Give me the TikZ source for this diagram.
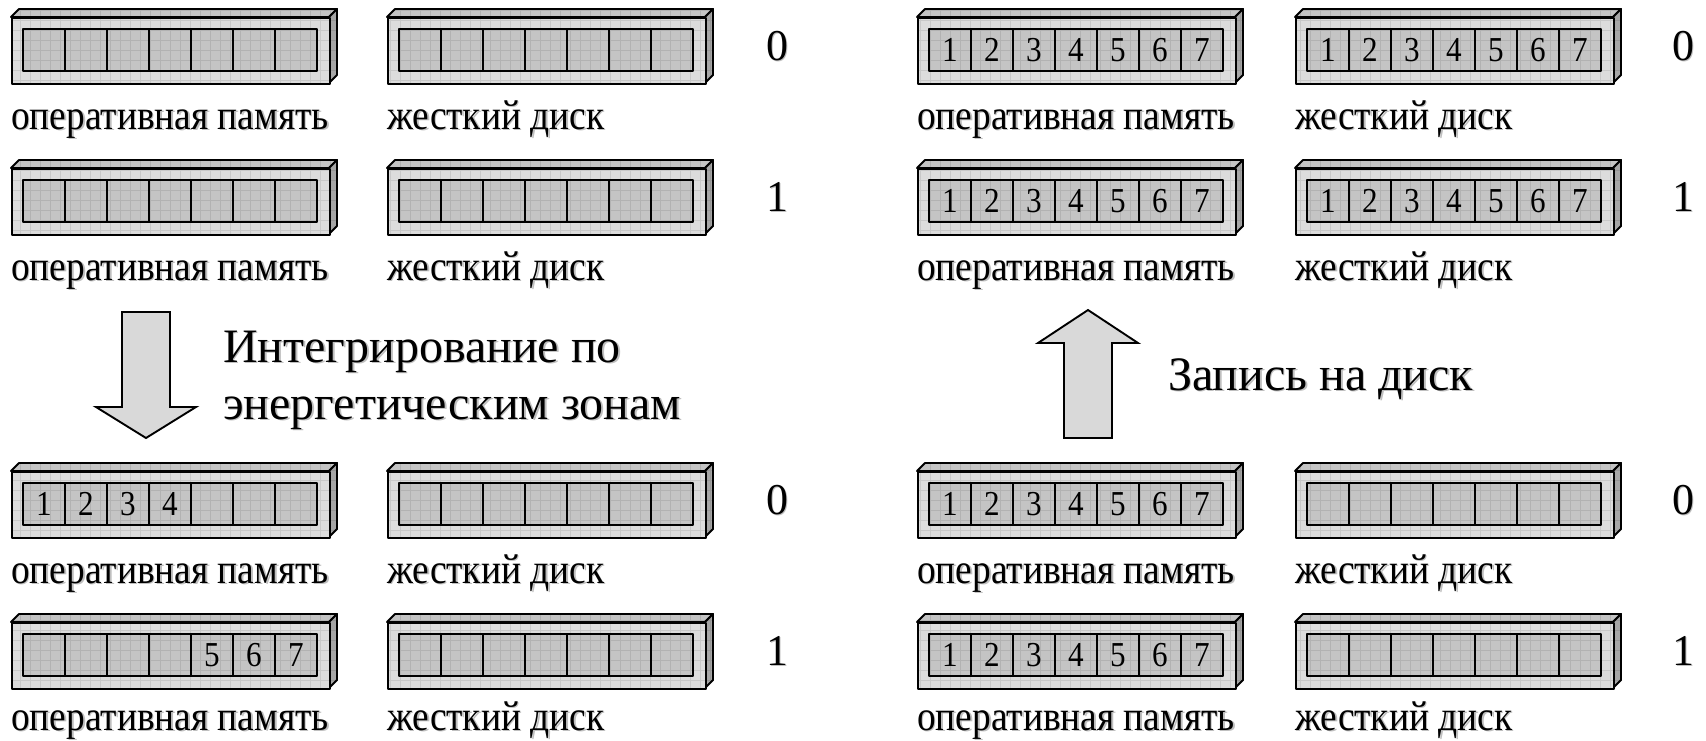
\documentclass[tikz,border=0pt]{standalone}
\usepackage{fontspec}
\setmainfont{Liberation Serif}
\newfontfamily\lblfont{Liberation Serif}[FakeStretch=0.89]
\usetikzlibrary{patterns.meta}
\definecolor{facefront}{HTML}{DCDCDC}
\definecolor{frontgrid}{HTML}{C8C8C8}
\definecolor{facecell}{HTML}{C4C4C4}
\definecolor{cellgrid}{HTML}{B2B2B2}
\definecolor{facetop}{HTML}{C4C4C4}
\definecolor{topgrid}{HTML}{B0B0B0}
\definecolor{faceside}{HTML}{A6A6A6}
\definecolor{sidegrid}{HTML}{969696}
\definecolor{arrowfill}{HTML}{D9D9D9}
\newcommand\shd[1]{\leavevmode\rlap{\kern1.6pt\raisebox{-1.6pt}{\textcolor{black!25}{#1}}}#1}
\tikzset{
  gridded/.style 2 args={preaction={fill=#1},
    preaction={pattern={Hatch[angle=0,distance=10pt,line width=0.7pt]},pattern color=#2}},
  boxline/.style={draw=black, line width=1.9pt, line join=round},
  boxfront/.style={boxline, gridded={facefront}{frontgrid}, rectangle,
    minimum width=318pt, minimum height=66pt, inner sep=0pt, anchor=north west},
  memcell/.style={boxline, gridded={facecell}{cellgrid}, rectangle,
    minimum width=42pt, minimum height=42pt, inner sep=0pt,
    font=\lblfont\fontsize{35}{35}\selectfont},
  lbl/.style={anchor=base west, inner sep=0pt, font=\lblfont\fontsize{42}{42}\selectfont},
  numtext/.style={anchor=base, inner sep=0pt, font=\fontsize{44}{44}\selectfont},
  bigtext/.style={anchor=base west, inner sep=0pt, align=left,
    font=\fontsize{48}{57}\selectfont},
  bigarrow/.style={draw=black, line width=1.9pt, line join=miter, fill=arrowfill},
}
% #1 name, #2 X, #3 Y, #4 first digit, #5 last digit
\newcommand\membox[5]{%
  \path[boxline, gridded={facetop}{topgrid}] (#2,#3) -- ++(8,-8) -- ++(318,0) -- ++(-8,8) -- cycle;
  \path[boxline, gridded={faceside}{sidegrid}] (#2+318,#3) -- ++(8,-8) -- ++(0,66) -- ++(-8,8) -- cycle;
  \node[boxfront] (#1) at (#2,#3) {};
  \foreach \i in {1,...,7} {
    \node[memcell] (#1-\i) at (#2+12+42*\i-21, #3+33)
      {\ifnum\i<#4 \else\ifnum\i>#5 \else\i\fi\fi};
  }
}
\begin{document}
\begin{tikzpicture}[x=1pt, y=-1pt]
\useasboundingbox (0,0) rectangle (1706,740);
% ---------- left half ----------
\membox{lramA}{11}{17}{8}{0}
\membox{ldiskA}{387}{17}{8}{0}
\node[lbl] (lramAt) at (11,129) {\shd{оперативная память}};
\node[lbl] (ldiskAt) at (387,129) {\shd{жесткий диск}};
\node[numtext] (lnumA) at (777,60) {\shd{0}};

\membox{lramB}{11}{168}{8}{0}
\membox{ldiskB}{387}{168}{8}{0}
\node[lbl] (lramBt) at (11,280) {\shd{оперативная память}};
\node[lbl] (ldiskBt) at (387,280) {\shd{жесткий диск}};
\node[numtext] (lnumB) at (777,211) {\shd{1}};

\membox{lramC}{11}{471}{1}{4}
\membox{ldiskC}{387}{471}{8}{0}
\node[lbl] (lramCt) at (11,583) {\shd{оперативная память}};
\node[lbl] (ldiskCt) at (387,583) {\shd{жесткий диск}};
\node[numtext] (lnumC) at (777,514) {\shd{0}};

\membox{lramD}{11}{622}{5}{7}
\membox{ldiskD}{387}{622}{8}{0}
\node[lbl] (lramDt) at (11,730) {\shd{оперативная память}};
\node[lbl] (ldiskDt) at (387,730) {\shd{жесткий диск}};
\node[numtext] (lnumD) at (777,665) {\shd{1}};

\draw[bigarrow] (122,312) -- (170,312) -- (170,407) -- (196,407) -- (146,438)
  -- (96,407) -- (122,407) -- cycle;
\node[bigtext] (integr) at (223,419) {\shd{Интегрирование по}\\\shd{энергетическим зонам}};

% ---------- right half ----------
\membox{rramA}{917}{17}{1}{7}
\membox{rdiskA}{1295}{17}{1}{7}
\node[lbl] (rramAt) at (917,129) {\shd{оперативная память}};
\node[lbl] (rdiskAt) at (1295,129) {\shd{жесткий диск}};
\node[numtext] (rnumA) at (1683,60) {\shd{0}};

\membox{rramB}{917}{168}{1}{7}
\membox{rdiskB}{1295}{168}{1}{7}
\node[lbl] (rramBt) at (917,280) {\shd{оперативная память}};
\node[lbl] (rdiskBt) at (1295,280) {\shd{жесткий диск}};
\node[numtext] (rnumB) at (1683,211) {\shd{1}};

\membox{rramC}{917}{471}{1}{7}
\membox{rdiskC}{1295}{471}{8}{0}
\node[lbl] (rramCt) at (917,583) {\shd{оперативная память}};
\node[lbl] (rdiskCt) at (1295,583) {\shd{жесткий диск}};
\node[numtext] (rnumC) at (1683,514) {\shd{0}};

\membox{rramD}{917}{622}{1}{7}
\membox{rdiskD}{1295}{622}{8}{0}
\node[lbl] (rramDt) at (917,730) {\shd{оперативная память}};
\node[lbl] (rdiskDt) at (1295,730) {\shd{жесткий диск}};
\node[numtext] (rnumD) at (1683,665) {\shd{1}};

\draw[bigarrow] (1064,438) -- (1112,438) -- (1112,343) -- (1138,343) -- (1088,310)
  -- (1038,343) -- (1064,343) -- cycle;
\node[bigtext] (zapis) at (1168,390) {\shd{Запись на диск}};
\end{tikzpicture}
\end{document}
